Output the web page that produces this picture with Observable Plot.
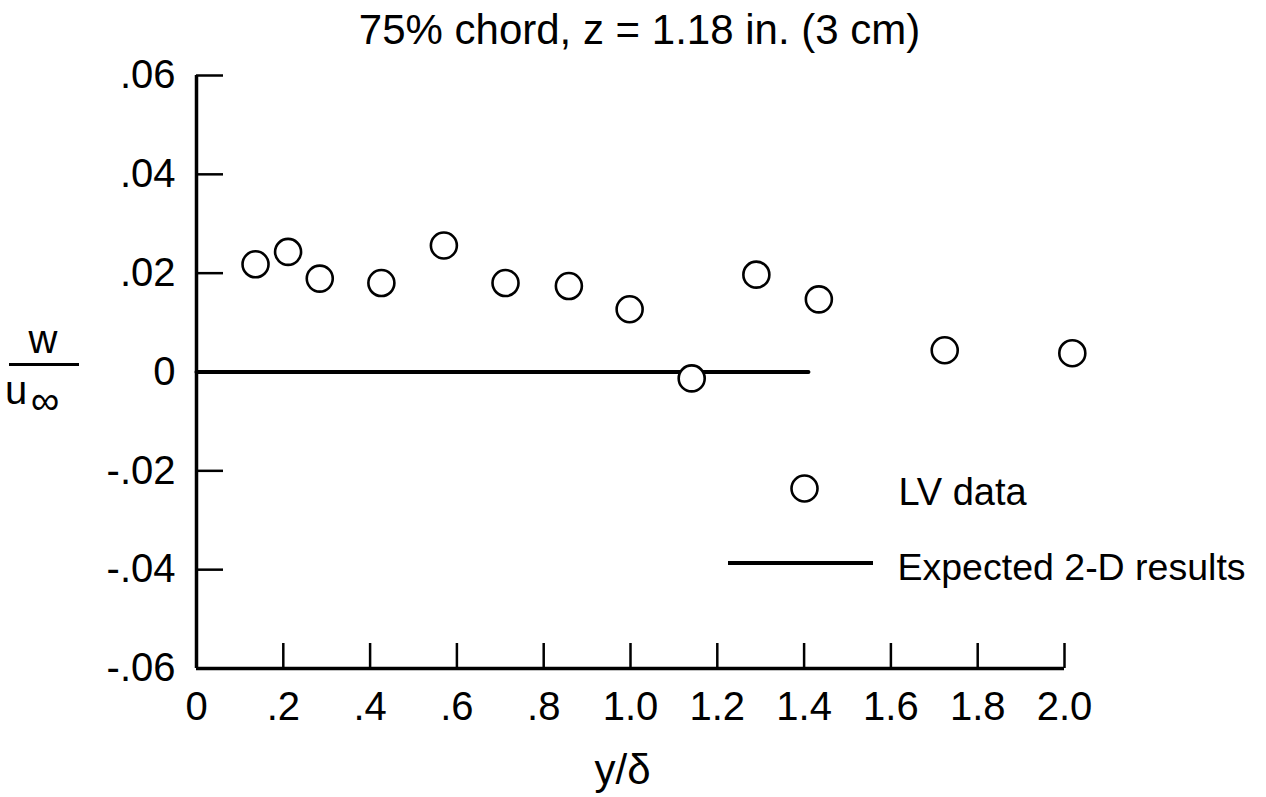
<!DOCTYPE html>
<html><head><meta charset="utf-8">
<script src="https://cdn.jsdelivr.net/npm/d3@7"></script>
<script src="https://cdn.jsdelivr.net/npm/@observablehq/plot@0.6"></script>
<style>
body{margin:0;background:#fff;}
#chart svg{display:block;}
</style></head><body><div id="chart"></div>
<script>
// Data
const yOverDelta = [0.136, 0.211, 0.284, 0.426, 0.570, 0.712, 0.858, 0.998, 1.141, 1.290, 1.434, 1.724, 2.018];
const wOverU     = [0.0218, 0.0243, 0.0189, 0.0180, 0.0256, 0.0180, 0.0174, 0.0127, -0.0013, 0.0197, 0.0147, 0.0044, 0.0038];
const expectedX = [0, 1.41];
const expectedY = [0, 0];
const xTicks = [0, 0.2, 0.4, 0.6, 0.8, 1.0, 1.2, 1.4, 1.6, 1.8, 2.0];
const xTickLabels = ["0", ".2", ".4", ".6", ".8", "1.0", "1.2", "1.4", "1.6", "1.8", "2.0"];
const yTicks = [-0.06, -0.04, -0.02, 0, 0.02, 0.04, 0.06];
const yTickLabels = ["-.06", "-.04", "-.02", "0", ".02", ".04", ".06"];
const title = "75% chord, z = 1.18 in. (3 cm)";
const xLabel = "y/δ";
const yLabelTop = "w";
const yLabelBottom = "u";
const yLabelSub = "∞";
const legendLabels = ["LV data", "Expected 2-D results"];

const font = '"Liberation Sans",Arial,sans-serif';
const points = yOverDelta.map((x, i) => ({x, y: wOverU[i]}));
const expected = expectedX.map((x, i) => ({x, y: expectedY[i]}));

const W = 1266, H = 797, mL = 196, mR = 202, mT = 75, mB = 129;

const plot = Plot.plot({
  width: W, height: H,
  marginLeft: mL, marginRight: mR, marginTop: mT, marginBottom: mB,
  style: {fontFamily: font, fontSize: "40px", color: "#000", background: "#fff", overflow: "visible"},
  x: {domain: [0, 2]},
  y: {domain: [-0.06, 0.06]},
  marks: [
    Plot.axisX({ticks: xTicks, tickFormat: d => xTickLabels[xTicks.indexOf(d)], tickSize: -25, tickPadding: 48, strokeWidth: 2.5, fontSize: 40, label: null}),
    Plot.axisY({ticks: yTicks, tickFormat: d => yTickLabels[yTicks.indexOf(d)], tickSize: -27, tickPadding: 48, strokeWidth: 2.5, fontSize: 40, label: null}),
    Plot.ruleX([0], {stroke: "#000", strokeWidth: 3.5}),
    Plot.ruleY([-0.06], {stroke: "#000", strokeWidth: 3.5}),
    Plot.line(expected, {x: "x", y: "y", stroke: "#000", strokeWidth: 4, strokeLinecap: "round"}),
    Plot.dot(points, {x: "x", y: "y", r: 13, stroke: "#000", strokeWidth: 2.6, fill: "#fff"}),
    Plot.text([title], {frameAnchor: "top", lineAnchor: "bottom", dx: 9, dy: -32, fontSize: 42}),
    Plot.text([xLabel], {frameAnchor: "bottom", lineAnchor: "bottom", dx: -8, dy: 115, fontSize: 42}),
    Plot.dot([legendLabels[0]], {frameAnchor: "top-left", dx: 804 - mL, dy: 488 - mT, r: 13, stroke: "#000", strokeWidth: 2.6, fill: "#fff"}),
    Plot.text([legendLabels[0]], {frameAnchor: "top-left", textAnchor: "start", lineAnchor: "middle", dx: 898 - mL, dy: 492 - mT, fontSize: 38}),
    Plot.text([legendLabels[1]], {frameAnchor: "top-left", textAnchor: "start", lineAnchor: "middle", dx: 897 - mL, dy: 567 - mT, fontSize: 37.5})
  ]
});

const svg = d3.select(plot);
const y0 = plot.scale("y").apply(0);
// legend line sample
svg.append("line").attr("x1", 728).attr("x2", 873).attr("y1", 563).attr("y2", 563)
  .attr("stroke", "#000").attr("stroke-width", 4);
// y-axis fraction label
const g = svg.append("g").attr("font-family", font).attr("font-size", 40).attr("fill", "#000");
g.append("text").attr("x", 43).attr("y", y0 - 19).attr("text-anchor", "middle").text(yLabelTop);
g.append("line").attr("x1", 9).attr("x2", 79).attr("y1", y0 - 7).attr("y2", y0 - 7).attr("stroke", "#000").attr("stroke-width", 3);
g.append("text").attr("x", 16).attr("y", y0 + 32).text(yLabelBottom);
g.append("text").attr("x", 45).attr("y", y0 + 42).attr("font-size", 40).text(yLabelSub);

document.getElementById("chart").appendChild(plot);
</script></body></html>
